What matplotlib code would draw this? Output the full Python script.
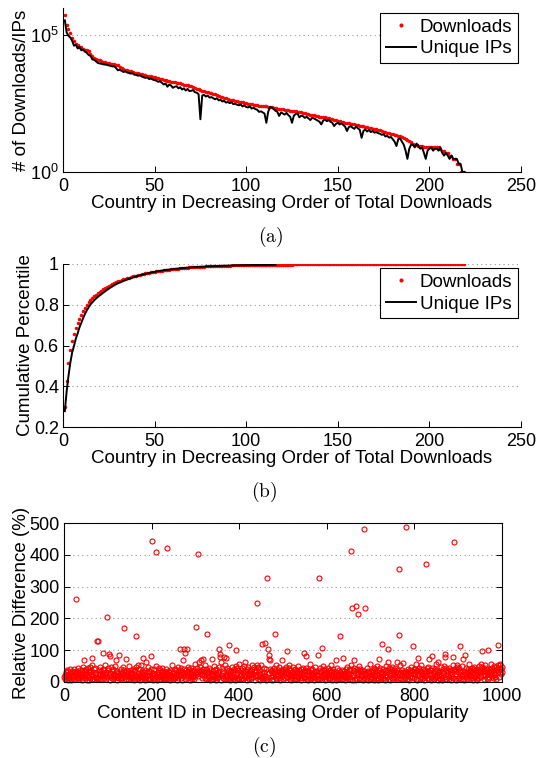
import numpy as np
import matplotlib
matplotlib.use('agg')
import matplotlib.pyplot as plt

plt.rcParams['font.family'] = ['Liberation Sans', 'DejaVu Sans']
plt.rcParams['mathtext.fontset'] = 'custom'
plt.rcParams['mathtext.rm'] = 'Liberation Sans'
plt.rcParams['mathtext.it'] = 'Liberation Sans:italic'

# ---- panel (a)/(b): per-country totals, log10 of counts, country rank 1..219
log_downloads = [
    5.74, 5.38, 5.22, 5.07, 4.92, 4.81, 4.70, 4.66, 4.58, 4.56,
    4.50, 4.48, 4.45, 4.42, 4.30, 4.26, 4.17, 4.14, 4.11, 4.08,
    4.06, 4.04, 4.02, 4.00, 3.98, 3.96, 3.95, 3.94, 3.93, 3.92,
    3.85, 3.80, 3.77, 3.74, 3.72, 3.70, 3.68, 3.66, 3.64, 3.62,
    3.61, 3.59, 3.58, 3.56, 3.55, 3.53, 3.51, 3.50, 3.48, 3.46,
    3.44, 3.43, 3.41, 3.40, 3.38, 3.36, 3.34, 3.33, 3.31, 3.29,
    3.28, 3.27, 3.25, 3.24, 3.22, 3.20, 3.19, 3.17, 3.15, 3.13,
    3.10, 3.07, 3.04, 3.02, 3.00, 2.98, 2.96, 2.94, 2.92, 2.90,
    2.88, 2.86, 2.84, 2.82, 2.79, 2.76, 2.73, 2.71, 2.69, 2.67,
    2.65, 2.63, 2.62, 2.60, 2.59, 2.57, 2.56, 2.55, 2.53, 2.52,
    2.50, 2.49, 2.47, 2.46, 2.45, 2.44, 2.43, 2.42, 2.42, 2.41,
    2.40, 2.39, 2.38, 2.36, 2.35, 2.33, 2.32, 2.31, 2.30, 2.29,
    2.28, 2.27, 2.26, 2.25, 2.24, 2.23, 2.22, 2.21, 2.19, 2.18,
    2.16, 2.15, 2.13, 2.12, 2.10, 2.09, 2.07, 2.06, 2.04, 2.03,
    2.02, 2.01, 2.00, 1.99, 1.97, 1.95, 1.93, 1.91, 1.89, 1.87,
    1.86, 1.84, 1.83, 1.81, 1.80, 1.78, 1.77, 1.75, 1.74, 1.73,
    1.71, 1.70, 1.68, 1.67, 1.65, 1.64, 1.62, 1.61, 1.59, 1.58,
    1.56, 1.54, 1.52, 1.50, 1.48, 1.46, 1.44, 1.42, 1.40, 1.38,
    1.36, 1.34, 1.32, 1.30, 1.27, 1.24, 1.20, 1.16, 1.12, 1.08,
    1.04, 1.00, 0.98, 0.96, 0.95, 0.94, 0.93, 0.92, 0.91, 0.90,
    0.90, 0.90, 0.90, 0.90, 0.90, 0.85, 0.78, 0.78, 0.70, 0.70,
    0.60, 0.60, 0.48, 0.48, 0.30, 0.30, 0.00, 0.00, 0.00,
]
log_ips = [
    5.55, 5.10, 4.98, 4.92, 4.80, 4.62, 4.66, 4.52, 4.58, 4.45,
    4.48, 4.40, 4.36, 4.28, 4.25, 4.12, 4.10, 4.05, 3.99, 3.97,
    3.96, 3.94, 3.93, 3.92, 3.90, 3.88, 3.86, 3.87, 3.80, 3.72,
    3.74, 3.70, 3.66, 3.68, 3.64, 3.62, 3.60, 3.61, 3.56, 3.55,
    3.52, 3.54, 3.49, 3.47, 3.44, 3.46, 3.40, 3.42, 3.38, 3.36,
    3.34, 3.30, 3.32, 3.26, 3.20, 3.24, 3.12, 3.20, 3.16, 3.08,
    3.12, 3.14, 3.06, 3.10, 3.02, 3.06, 2.98, 3.04, 2.96, 2.97,
    3.00, 2.92, 2.90, 2.85, 1.93, 2.80, 2.82, 2.76, 2.80, 2.72,
    2.74, 2.70, 2.66, 2.70, 2.62, 2.64, 2.58, 2.60, 2.54, 2.56,
    2.52, 2.55, 2.48, 2.50, 2.46, 2.44, 2.47, 2.40, 2.43, 2.38,
    2.36, 2.40, 2.32, 2.35, 2.30, 2.28, 2.20, 2.22, 2.18, 2.14,
    1.80, 2.20, 2.38, 2.36, 2.30, 2.24, 2.20, 2.05, 2.18, 2.14,
    2.10, 2.16, 2.08, 2.02, 1.80, 2.06, 2.12, 2.14, 2.00, 2.06,
    2.04, 1.98, 2.02, 1.96, 1.90, 1.98, 1.96, 1.92, 1.88, 1.84,
    1.74, 1.88, 1.92, 1.86, 1.90, 1.84, 1.80, 1.68, 1.76, 1.80,
    1.74, 1.78, 1.72, 1.66, 1.50, 1.64, 1.68, 1.62, 1.58, 1.66,
    1.60, 1.54, 1.25, 1.50, 1.56, 1.48, 1.54, 1.46, 1.50, 1.44,
    1.46, 1.42, 1.40, 1.36, 1.38, 1.30, 1.32, 1.26, 1.28, 1.20,
    1.11, 0.95, 1.20, 1.23, 1.11, 1.00, 0.78, 0.48, 0.85, 1.00,
    1.00, 0.90, 1.04, 0.95, 0.85, 0.90, 0.70, 0.48, 0.78, 0.85,
    0.90, 0.78, 0.85, 0.85, 0.78, 0.90, 0.70, 0.60, 0.70, 0.60,
    0.48, 0.60, 0.48, 0.48, 0.48, 0.30, 0.30, 0.00, 0.00,
]
ips_cdf_shown = 116   # unique-IP CDF line stops here in panel (b)

# ---- panel (c): relative difference (%) per content ID 1..1000
rel_band = [
    16, 22, 9, 31, 18, 38, 12, 25, 7, 34, 20, 14, 42, 27, 11, 29, 6, 36, 21, 15, 30, 10, 40, 19, 33,
    24, 8, 35, 13, 28, 17, 44, 22, 9, 32, 15, 39, 20, 26, 5, 37, 12, 29, 48, 18, 11, 34, 25, 14, 41,
    27, 7, 21, 45, 16, 30, 6, 38, 23, 12, 36, 26, 10, 52, 15, 33, 19, 8, 40, 24, 43, 13, 28, 17, 35,
    9, 31, 14, 39, 27, 11, 22, 47, 8, 34, 18, 29, 5, 42, 24, 13, 37, 20, 55, 26, 10, 33, 16, 21, 44,
    38, 12, 25, 32, 7, 28, 19, 46, 14, 35, 22, 9, 40, 26, 15, 50, 20, 11, 30, 6, 36, 17, 27, 13, 43,
    23, 14, 33, 8, 41, 19, 29, 12, 48, 25, 6, 37, 16, 31, 21, 45, 10, 35, 24, 9, 30, 18, 51, 15, 28,
    10, 39, 20, 31, 13, 26, 42, 16, 34, 5, 23, 37, 11, 28, 46, 19, 8, 33, 12, 29, 22, 40, 17, 7, 53,
    27, 15, 36, 9, 24, 44, 13, 32, 20, 6, 38, 25, 11, 30, 18, 47, 8, 35, 22, 14, 31, 10, 42, 26, 16,
    34, 21, 7, 29, 40, 12, 26, 10, 37, 51, 18, 28, 5, 33, 15, 43, 24, 9, 39, 20, 11, 30, 17, 45, 13,
    25, 36, 11, 19, 32, 8, 41, 14, 27, 49, 22, 10, 35, 17, 30, 6, 38, 23, 13, 33, 20, 54, 9, 28, 16,
    15, 31, 42, 12, 24, 37, 7, 28, 18, 46, 13, 34, 21, 9, 39, 25, 44, 14, 30, 5, 22, 36, 11, 40, 27,
    10, 26, 38, 19, 8, 33, 22, 48, 13, 29, 41, 6, 31, 24, 15, 45, 11, 36, 23, 17, 9, 39, 27, 56, 20,
    32, 13, 24, 43, 9, 30, 18, 38, 7, 27, 47, 15, 35, 21, 12, 26, 41, 10, 31, 23, 52, 14, 33, 8, 40,
    21, 36, 11, 28, 44, 16, 30, 6, 39, 24, 10, 42, 25, 18, 34, 8, 50, 20, 13, 37, 27, 7, 40, 23, 12,
    30, 17, 46, 10, 25, 38, 14, 33, 7, 43, 22, 12, 36, 28, 9, 40, 19, 53, 11, 31, 26, 15, 44, 8, 34,
    22, 39, 13, 28, 6, 36, 19, 48, 15, 31, 10, 42, 24, 17, 37, 5, 33, 21, 11, 45, 27, 14, 38, 9, 57,
    18, 29, 10, 37, 23, 43, 12, 32, 8, 35, 20, 50, 26, 11, 34, 16, 6, 40, 28, 14, 46, 22, 9, 31, 38,
    12, 34, 21, 8, 41, 26, 15, 36, 47, 18, 30, 5, 38, 23, 13, 29, 44, 10, 33, 20, 39, 7, 25, 17, 52,
    28, 14, 38, 22, 9, 33, 45, 12, 31, 19, 6, 40, 26, 11, 36, 17, 49, 29, 10, 24, 42, 15, 34, 7, 30,
    37, 20, 11, 29, 43, 9, 34, 23, 14, 54, 26, 8, 38, 18, 31, 13, 46, 22, 6, 39, 28, 12, 35, 19, 41,
    9, 30, 24, 40, 13, 28, 48, 17, 36, 7, 25, 15, 43, 33, 10, 22, 39, 19, 5, 31, 14, 46, 27, 11, 37,
    23, 42, 10, 29, 18, 36, 8, 33, 51, 15, 26, 39, 12, 31, 20, 6, 41, 28, 13, 45, 22, 35, 9, 17, 38,
    14, 29, 43, 11, 34, 24, 7, 39, 18, 31, 56, 13, 26, 37, 9, 21, 42, 28, 15, 5, 33, 23, 47, 12, 30,
    36, 10, 25, 40, 19, 8, 34, 22, 44, 13, 30, 20, 38, 9, 28, 49, 15, 26, 37, 6, 23, 41, 11, 32, 18,
    27, 45, 14, 35, 9, 24, 39, 12, 31, 52, 19, 7, 36, 25, 42, 11, 29, 17, 33, 5, 40, 21, 13, 43, 26,
    11, 37, 23, 8, 32, 48, 18, 28, 10, 39, 20, 43, 9, 34, 25, 15, 6, 41, 27, 46, 16, 33, 10, 22, 38,
    25, 17, 40, 11, 54, 30, 19, 7, 37, 23, 45, 14, 34, 5, 28, 39, 12, 42, 26, 9, 31, 20, 50, 13, 35,
    41, 22, 9, 31, 18, 37, 6, 27, 47, 13, 35, 24, 40, 8, 26, 15, 43, 30, 5, 36, 21, 29, 11, 58, 17,
    30, 10, 38, 25, 14, 34, 44, 7, 28, 20, 40, 11, 36, 49, 22, 13, 31, 5, 39, 26, 16, 45, 33, 9, 27,
    19, 37, 12, 42, 28, 8, 35, 23, 6, 39, 51, 16, 31, 11, 26, 43, 10, 36, 21, 7, 40, 29, 14, 47, 24,
    34, 9, 26, 39, 17, 45, 12, 31, 22, 5, 37, 28, 10, 42, 20, 33, 55, 14, 27, 8, 38, 23, 30, 11, 43,
    18, 29, 13, 36, 46, 21, 8, 33, 25, 40, 11, 24, 6, 38, 30, 15, 48, 27, 17, 35, 9, 26, 42, 12, 31,
    24, 40, 10, 20, 34, 7, 38, 28, 15, 44, 22, 11, 36, 52, 17, 30, 8, 25, 41, 13, 33, 19, 5, 37, 27,
    9, 32, 23, 43, 14, 35, 48, 20, 8, 39, 26, 16, 37, 6, 29, 45, 12, 31, 22, 10, 40, 18, 34, 57, 15,
    38, 19, 7, 30, 42, 12, 25, 36, 10, 46, 23, 14, 33, 5, 40, 28, 17, 50, 11, 31, 21, 43, 8, 35, 26,
    22, 34, 15, 45, 9, 29, 39, 18, 6, 37, 24, 53, 12, 32, 20, 42, 10, 35, 25, 7, 40, 28, 47, 14, 33,
    43, 12, 30, 23, 38, 8, 34, 19, 49, 26, 11, 41, 31, 6, 37, 21, 45, 15, 29, 35, 10, 42, 24, 56, 18,
    29, 39, 11, 35, 20, 44, 14, 32, 7, 40, 25, 48, 17, 37, 10, 30, 5, 42, 23, 13, 38, 33, 51, 19, 36,
    15, 37, 26, 46, 10, 33, 21, 41, 8, 35, 54, 18, 30, 43, 12, 38, 24, 9, 45, 32, 16, 40, 27, 58, 22,
    34, 20, 44, 13, 39, 28, 50, 17, 36, 24, 47, 10, 38, 42, 22, 53, 30, 15, 45, 35, 56, 25, 41, 33, 48,
]
# content IDs whose difference stands out of the dense band, and their values
spike_ids = [
    27, 46, 59, 65, 75, 77, 88, 99, 102, 104, 118, 125, 136, 141, 164, 168, 181, 187, 199,
    201, 209, 235, 264, 272, 273, 277, 280, 302, 305, 309, 312, 318, 326, 337, 354, 356,
    357, 358, 366, 370, 376, 392, 393, 414, 429, 440, 441, 444, 453, 459, 463, 465, 467,
    469, 470, 481, 497, 510, 514, 548, 552, 579, 583, 590, 621, 631, 637, 656, 657, 662,
    666, 672, 684, 688, 720, 727, 739, 740, 760, 764, 765, 775, 780, 796, 804, 809, 826,
    833, 840, 855, 870, 871, 889, 890, 897, 905, 912, 915, 953, 955, 969, 990, 995,
]
spike_vals = [
    262, 70, 47, 75, 130, 130, 92, 205, 87, 81, 68, 85, 171, 73, 144, 52, 74, 62, 81,
    442, 409, 420, 104, 68, 105, 91, 103, 173, 404, 63, 68, 71, 152, 73, 104, 89,
    79, 63, 79, 76, 116, 50, 100, 63, 52, 248, 55, 47, 120, 124, 328, 103, 84,
    73, 68, 152, 68, 97, 55, 91, 82, 85, 328, 108, 70, 146, 75, 411, 234, 68,
    238, 215, 482, 234, 73, 121, 63, 105, 63, 356, 149, 60, 487, 112, 58, 75, 370,
    71, 81, 63, 89, 79, 79, 440, 52, 112, 73, 86, 56, 96, 102, 115, 52,
]

downloads = 10 ** np.array(log_downloads)
ips = 10 ** np.array(log_ips)
country = np.arange(1, len(downloads) + 1)

rel_diff = np.array(rel_band, dtype=float)
rel_diff[np.array(spike_ids) - 1] = spike_vals
content = np.arange(1, len(rel_diff) + 1)

fig = plt.figure(figsize=(5.38, 7.58), dpi=100)
W, H = 538.0, 758.0


def box(left, top, right, bottom):
    return [left / W, 1 - bottom / H, (right - left) / W, (bottom - top) / H]


def style(ax, full_box=False):
    for s in ['top', 'right']:
        ax.spines[s].set_visible(full_box)
    for s in ax.spines.values():
        s.set_linewidth(0.8)
    ax.tick_params(direction='in', length=4, width=0.7, labelsize=13,
                   top=full_box, right=full_box)
    ax.tick_params(axis='x', pad=4)
    ax.tick_params(axis='y', pad=3)
    ax.tick_params(which='minor', length=0)
    ax.yaxis.grid(True, linestyle=(0, (1, 3)), color='#999999', linewidth=0.8)
    ax.set_axisbelow(True)


lab = dict(fontsize=13.5, labelpad=0)
cap = dict(fontsize=14, ha='center', va='center', math_fontfamily='cm')
leg = dict(loc='upper right', borderaxespad=0, fontsize=13.5, fancybox=False,
           edgecolor='black', framealpha=1, handlelength=1.6, handletextpad=0.2,
           borderpad=0.3, labelspacing=0.25, markerscale=1.3)

# (a)
ax1 = fig.add_axes(box(63, 8, 521, 172))
ax1.plot(country, downloads, '.', color='red', markersize=3, label='Downloads', zorder=2)
ax1.plot(country, ips, '-', color='black', linewidth=1.4, label='Unique IPs', zorder=3)
ax1.set_yscale('log')
ax1.set_ylim(1, 1e6)
ax1.set_yticks([1, 1e5])
ax1.set_yticklabels([r'$10^0$', r'$10^5$'])
ax1.set_xlim(0, 250)
ax1.set_xticks(range(0, 251, 50))
style(ax1)
ax1.set_xlabel('Country in Decreasing Order of Total Downloads', **lab)
ax1.set_ylabel('# of Downloads/IPs', **lab)
ax1.legend(bbox_to_anchor=(0.993, 0.97), **leg).get_frame().set_linewidth(0.8)
fig.text(271 / W, 1 - 237 / H, r'$\mathrm{(a)}$', **cap)

# (b)
ax2 = fig.add_axes(box(63, 264, 521, 427))
ax2.plot(country, np.cumsum(downloads) / downloads.sum(), '.', color='red',
         markersize=3, label='Downloads', zorder=2)
ips_cdf = np.cumsum(ips) / ips.sum()
ax2.plot(country[:ips_cdf_shown], ips_cdf[:ips_cdf_shown], '-', color='black',
         linewidth=1.4, label='Unique IPs', zorder=3)
ax2.set_ylim(0.2, 1)
ax2.set_yticks([0.2, 0.4, 0.6, 0.8, 1])
ax2.set_yticklabels(['0.2', '0.4', '0.6', '0.8', '1'])
ax2.set_xlim(0, 250)
ax2.set_xticks(range(0, 251, 50))
style(ax2)
ax2.set_xlabel('Country in Decreasing Order of Total Downloads', **lab)
ax2.set_ylabel('Cumulative Percentile', **lab)
ax2.legend(bbox_to_anchor=(0.993, 0.975), **leg).get_frame().set_linewidth(0.8)
fig.text(264 / W, 1 - 492 / H, r'$\mathrm{(b)}$', **cap)

# (c)
ax3 = fig.add_axes(box(64, 523, 502, 682))
ax3.plot(content, rel_diff, 'o', color='red', markerfacecolor='none',
         markersize=3.6, markeredgewidth=0.8, clip_on=False)
ax3.set_xlim(0, 1000)
ax3.set_ylim(0, 500)
ax3.set_xticks(range(0, 1001, 200))
ax3.set_yticks(range(0, 501, 100))
style(ax3, full_box=True)
ax3.set_xlabel('Content ID in Decreasing Order of Popularity', **lab)
ax3.set_ylabel('Relative Difference (%)', **lab)
fig.text(264 / W, 1 - 747 / H, r'$\mathrm{(c)}$', **cap)

fig.savefig('out.png', dpi=100)
